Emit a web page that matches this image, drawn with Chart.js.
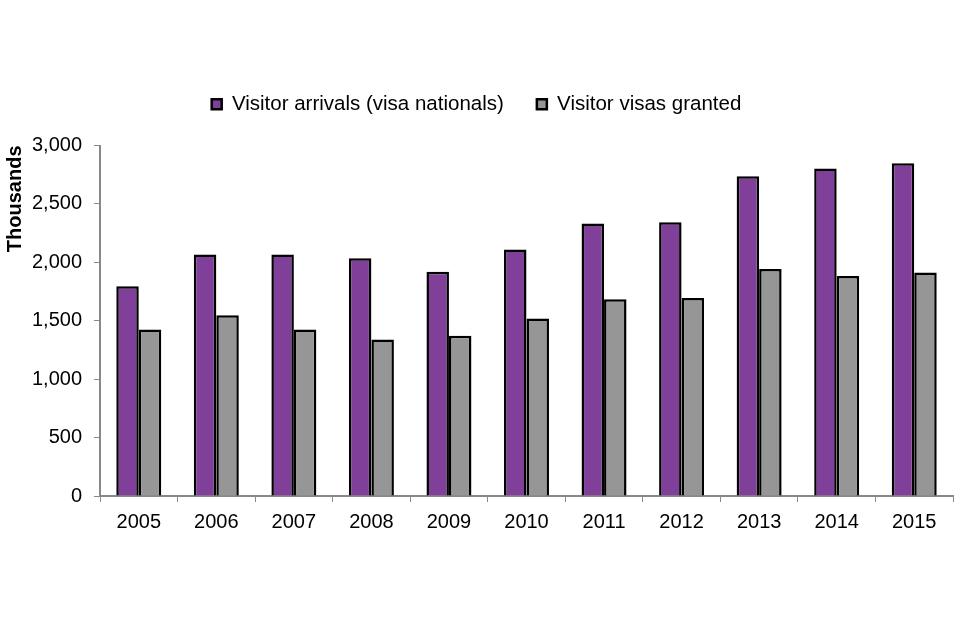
<!DOCTYPE html>
<html>
<head>
<meta charset="utf-8">
<script src="https://cdn.jsdelivr.net/npm/chart.js@4/dist/chart.umd.min.js"></script>
<style>
html,body{margin:0;padding:0;background:#fff;}
#wrap{width:960px;height:640px;}
</style>
</head>
<body>
<div id="wrap"><canvas id="c" width="960" height="640"></canvas></div>
<script>
const years = ['2005','2006','2007','2008','2009','2010','2011','2012','2013','2014','2015'];
const arrivals = [1796, 2068, 2068, 2036, 1920, 2110, 2333, 2344, 2737, 2803, 2849];
const visasGranted = [1426, 1548, 1426, 1340, 1372, 1520, 1683, 1694, 1942, 1882, 1914];
const yTicks = [0, 500, 1000, 1500, 2000, 2500, 3000];

Chart.defaults.font.family = '"Liberation Sans", Arial, sans-serif';
Chart.defaults.color = '#000';

const legendGap = {
  id: 'legendGap',
  beforeInit(chart) {
    const orig = chart.legend.fit;
    chart.legend.fit = function () {
      orig.bind(chart.legend)();
      this.height += 21;
    };
  }
};

new Chart(document.getElementById('c'), {
  type: 'bar',
  data: {
    labels: years,
    datasets: [
      {label: 'Visitor arrivals (visa nationals)', data: arrivals, backgroundColor: '#803f98', borderColor: '#000', borderWidth: 2.5, borderSkipped: 'bottom'},
      {label: 'Visitor visas granted', data: visasGranted, backgroundColor: '#969696', borderColor: '#000', borderWidth: 2.5, borderSkipped: 'bottom'}
    ]
  },
  plugins: [legendGap],
  options: {
    responsive: false,
    animation: false,
    devicePixelRatio: 1,
    layout: {padding: {top: 61, right: 7, bottom: 98, left: 0}},
    datasets: {bar: {categoryPercentage: 0.58, barPercentage: 1}},
    plugins: {
      legend: {
        position: 'top',
        labels: {boxWidth: 10, boxHeight: 10, padding: 33, font: {size: 20.5}, color: '#000'}
      },
      tooltip: {enabled: false}
    },
    scales: {
      x: {
        grid: {display: true, drawOnChartArea: false, drawTicks: true, tickLength: 6, color: '#888', offset: true},
        border: {color: '#888', width: 2},
        ticks: {font: {size: 20}, color: '#000', padding: 8}
      },
      y: {
        min: 0, max: 3000,
        afterBuildTicks: (s) => { s.ticks = yTicks.map(v => ({value: v})); },
        afterFit: (s) => { s.width = 100; },
        grid: {display: true, drawOnChartArea: false, drawTicks: true, tickLength: 6, color: '#888'},
        border: {color: '#888', width: 2},
        ticks: {font: {size: 20}, color: '#000', padding: 12, callback: (v) => v.toLocaleString('en-US')},
        title: {display: true, text: 'Thousands', align: 'end', font: {size: 20, weight: 'bold'}, color: '#000', padding: {top: 3, bottom: 0}}
      }
    }
  }
});
</script>
</body>
</html>
